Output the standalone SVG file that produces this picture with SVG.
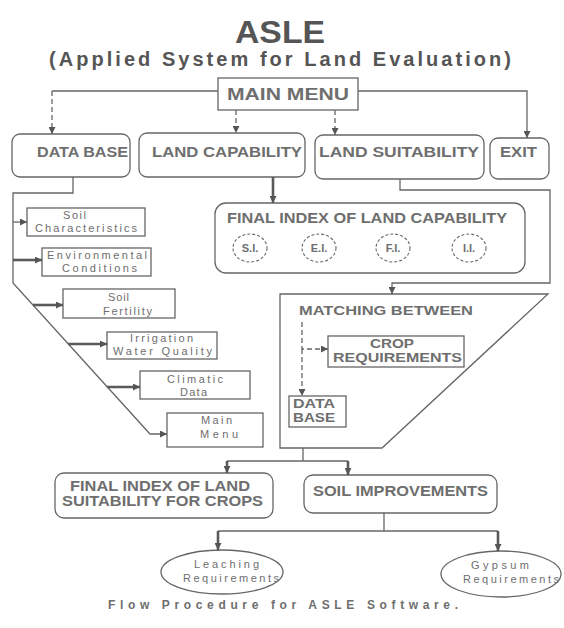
<svg xmlns="http://www.w3.org/2000/svg" width="564" height="628" viewBox="0 0 564 628">
<style>
.t{font-family:"Liberation Sans",Arial,sans-serif;fill:#6e6e6e}
.b{font-weight:bold}
.box{fill:#fff;stroke:#666;stroke-width:1.3}
.ln{fill:none;stroke:#666;stroke-width:1.3}
.dash{fill:none;stroke:#666;stroke-width:1.3;stroke-dasharray:5 3}
.thick{fill:none;stroke:#5a5a5a;stroke-width:2.6}
.circ{fill:#fff;stroke:#666;stroke-width:1.1;stroke-dasharray:3 2}
</style>
<defs>
<marker id="ah" viewBox="0 0 10 10" refX="10" refY="5" markerWidth="7" markerHeight="7" orient="auto" markerUnits="userSpaceOnUse">
<path d="M0,0 L10,5 L0,10 z" fill="#555"/>
</marker>
</defs>
<rect width="564" height="628" fill="#fff"/>

<g id="title">
<text class="t b" x="280" y="43" font-size="32" text-anchor="middle" style="fill:#555" textLength="90" lengthAdjust="spacingAndGlyphs">ASLE</text>
<text class="t b" x="280" y="66" font-size="20" text-anchor="middle" style="fill:#555" textLength="462" lengthAdjust="spacing">(Applied System for Land Evaluation)</text>
</g>

<g id="main-menu">
<rect class="box" x="218" y="78" width="140" height="32"/>
<text class="t b" x="288" y="100" font-size="16" text-anchor="middle" textLength="122" lengthAdjust="spacingAndGlyphs">MAIN MENU</text>
</g>

<g id="data-base">
<rect class="box" x="12" y="134" width="118" height="43" rx="8"/>
<text class="t b" x="37" y="157" font-size="14" textLength="91" lengthAdjust="spacingAndGlyphs">DATA BASE</text>
</g>
<g id="land-capability">
<rect class="box" x="139" y="133" width="166" height="44" rx="8"/>
<text class="t b" x="152" y="157" font-size="14" textLength="150" lengthAdjust="spacingAndGlyphs">LAND CAPABILITY</text>
</g>
<g id="land-suitability">
<rect class="box" x="315" y="135" width="169" height="44" rx="8"/>
<text class="t b" x="319" y="157" font-size="14" textLength="160" lengthAdjust="spacingAndGlyphs">LAND SUITABILITY</text>
</g>
<g id="exit">
<rect class="box" x="490" y="138" width="59" height="41" rx="8"/>
<text class="t b" x="500" y="157" font-size="14" textLength="37" lengthAdjust="spacingAndGlyphs">EXIT</text>
</g>

<g id="final-index-capability">
<rect class="box" x="215" y="203" width="310" height="70" rx="11"/>
<text class="t b" x="227" y="223" font-size="14" textLength="280" lengthAdjust="spacingAndGlyphs">FINAL INDEX OF LAND CAPABILITY</text>
<ellipse class="circ" cx="250" cy="248" rx="17" ry="14"/>
<text class="t b" x="250" y="252" font-size="11" text-anchor="middle">S.I.</text>
<ellipse class="circ" cx="319" cy="248" rx="17" ry="14"/>
<text class="t b" x="319" y="252" font-size="11" text-anchor="middle">E.I.</text>
<ellipse class="circ" cx="393" cy="248" rx="17" ry="14"/>
<text class="t b" x="393" y="252" font-size="11" text-anchor="middle">F.I.</text>
<ellipse class="circ" cx="469" cy="248" rx="17" ry="14"/>
<text class="t b" x="469" y="252" font-size="11" text-anchor="middle">I.I.</text>
</g>

<g id="soil-characteristics">
<rect class="box" x="27" y="208" width="118" height="28"/>
<text class="t" x="63" y="219" font-size="11" textLength="23" lengthAdjust="spacing">Soil</text>
<text class="t" x="35" y="232" font-size="11" textLength="102" lengthAdjust="spacing">Characteristics</text>
</g>
<g id="environmental-conditions">
<rect class="box" x="42" y="248" width="109" height="28"/>
<text class="t" x="47" y="259" font-size="11" textLength="100" lengthAdjust="spacing">Environmental</text>
<text class="t" x="62" y="272" font-size="11" textLength="75" lengthAdjust="spacing">Conditions</text>
</g>
<g id="soil-fertility">
<rect class="box" x="63" y="289" width="112" height="29"/>
<text class="t" x="108" y="301" font-size="11" textLength="21" lengthAdjust="spacing">Soil</text>
<text class="t" x="103" y="315" font-size="11" textLength="49" lengthAdjust="spacing">Fertility</text>
</g>
<g id="irrigation-water-quality">
<rect class="box" x="107" y="332" width="110" height="27"/>
<text class="t" x="130" y="342" font-size="11" textLength="63" lengthAdjust="spacing">Irrigation</text>
<text class="t" x="113" y="355" font-size="11" textLength="99" lengthAdjust="spacing">Water Quality</text>
</g>
<g id="climatic-data">
<rect class="box" x="140" y="371" width="110" height="28"/>
<text class="t" x="167" y="383" font-size="11" textLength="56" lengthAdjust="spacing">Climatic</text>
<text class="t" x="180" y="396" font-size="11" textLength="27" lengthAdjust="spacing">Data</text>
</g>
<g id="main-menu-sub">
<rect class="box" x="167" y="413" width="96" height="34"/>
<text class="t" x="201" y="424" font-size="11" textLength="31" lengthAdjust="spacing">Main</text>
<text class="t" x="200" y="438" font-size="11" textLength="38" lengthAdjust="spacing">Menu</text>
</g>

<g id="matching-between">
<polygon class="box" points="280,294 548,294 382,448 280,448"/>
<text class="t b" x="299" y="315" font-size="13" textLength="174" lengthAdjust="spacingAndGlyphs">MATCHING BETWEEN</text>
</g>
<g id="crop-requirements">
<rect class="box" x="328" y="336" width="136" height="31"/>
<text class="t b" x="392" y="348" font-size="13" text-anchor="middle" textLength="44" lengthAdjust="spacingAndGlyphs">CROP</text>
<text class="t b" x="333" y="362" font-size="13" textLength="129" lengthAdjust="spacingAndGlyphs">REQUIREMENTS</text>
</g>
<g id="data-base-small">
<rect class="box" x="289" y="396" width="57" height="31"/>
<text class="t b" x="293" y="408" font-size="13" textLength="42" lengthAdjust="spacingAndGlyphs">DATA</text>
<text class="t b" x="293" y="422" font-size="13" textLength="42" lengthAdjust="spacingAndGlyphs">BASE</text>
</g>

<g id="final-index-suitability">
<rect class="box" x="55" y="473" width="218" height="45" rx="9"/>
<text class="t b" x="70" y="491" font-size="14" textLength="180" lengthAdjust="spacingAndGlyphs">FINAL INDEX OF LAND</text>
<text class="t b" x="62" y="506" font-size="14" textLength="201" lengthAdjust="spacingAndGlyphs">SUITABILITY FOR CROPS</text>
</g>
<g id="soil-improvements">
<rect class="box" x="304" y="475" width="193" height="38" rx="9"/>
<text class="t b" x="313" y="496" font-size="14" textLength="175" lengthAdjust="spacingAndGlyphs">SOIL IMPROVEMENTS</text>
</g>

<g id="leaching">
<ellipse class="box" cx="222" cy="572" rx="61" ry="22"/>
<text class="t" x="194" y="568" font-size="11" textLength="65" lengthAdjust="spacing">Leaching</text>
<text class="t" x="183" y="582" font-size="11" textLength="96" lengthAdjust="spacing">Requirements</text>
</g>
<g id="gypsum">
<ellipse class="box" cx="501" cy="574" rx="60" ry="23"/>
<text class="t" x="471" y="569" font-size="11" textLength="58" lengthAdjust="spacing">Gypsum</text>
<text class="t" x="463" y="583" font-size="11" textLength="96" lengthAdjust="spacing">Requirements</text>
</g>

<g id="caption">
<text class="t b" x="108" y="609" font-size="12" textLength="350" lengthAdjust="spacing">Flow Procedure for ASLE Software.</text>
</g>

<g id="connectors">
<polyline class="ln" points="218,91 52,91"/>
<line class="dash" x1="52" y1="91" x2="52" y2="134" marker-end="url(#ah)"/>
<polyline class="ln" points="358,91 527,91 527,138" marker-end="url(#ah)"/>
<line class="dash" x1="236" y1="110" x2="236" y2="133" marker-end="url(#ah)"/>
<line class="dash" x1="335" y1="110" x2="335" y2="135" marker-end="url(#ah)"/>
<line class="thick" x1="273" y1="177" x2="273" y2="203" marker-end="url(#ah)"/>
<polyline class="ln" points="400,179 400,190 550,190 550,283 392,283 392,294" marker-end="url(#ah)"/>
<polyline class="ln" points="73,177 73,193 13,193 13,283 150,434 167,434" marker-end="url(#ah)"/>
<line class="ln" x1="13" y1="222" x2="27" y2="222" marker-end="url(#ah)"/>
<line class="thick" x1="13" y1="260" x2="42" y2="260" marker-end="url(#ah)"/>
<line class="thick" x1="33" y1="305" x2="63" y2="305" marker-end="url(#ah)"/>
<line class="thick" x1="68" y1="344" x2="107" y2="344" marker-end="url(#ah)"/>
<line class="thick" x1="107" y1="387" x2="140" y2="387" marker-end="url(#ah)"/>
<polyline class="dash" points="302,322 302,349 328,349" marker-end="url(#ah)"/>
<line class="dash" x1="302" y1="349" x2="302" y2="396" marker-end="url(#ah)"/>
<polyline class="ln" points="303,448 303,461"/>
<polyline class="ln" points="227,461 348,461"/>
<line class="thick" x1="227" y1="461" x2="227" y2="473" marker-end="url(#ah)"/>
<line class="thick" x1="348" y1="461" x2="348" y2="475" marker-end="url(#ah)"/>
<polyline class="ln" points="384,513 384,531"/>
<polyline class="ln" points="218,531 498,531"/>
<line class="thick" x1="218" y1="531" x2="218" y2="550" marker-end="url(#ah)"/>
<line class="thick" x1="498" y1="531" x2="498" y2="551" marker-end="url(#ah)"/>
</g>
</svg>
